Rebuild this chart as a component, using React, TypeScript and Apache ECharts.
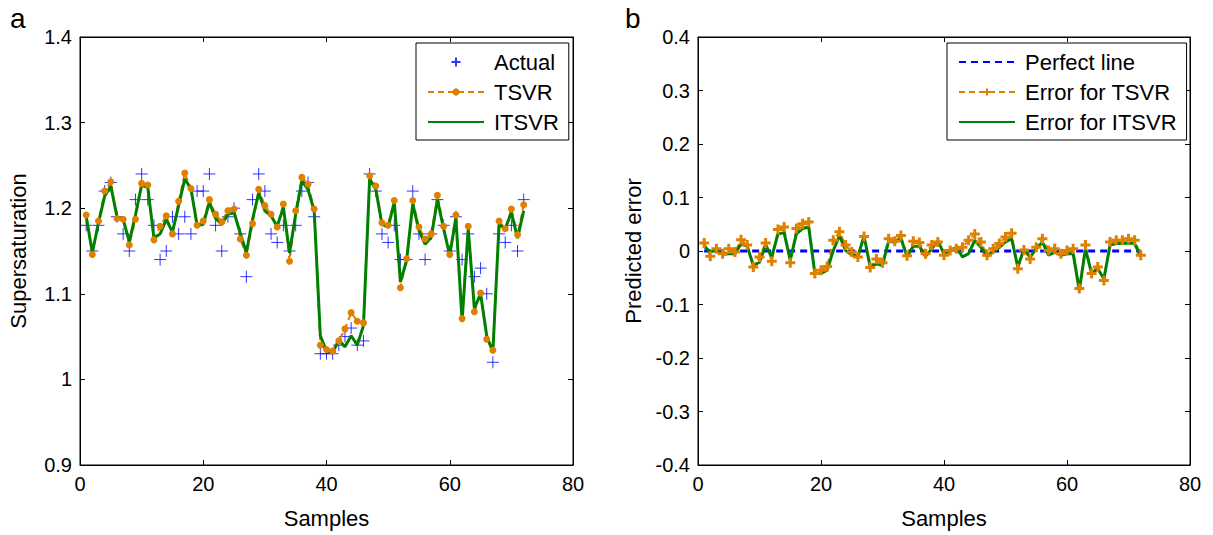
import React, { useEffect, useRef } from "react";
import * as echarts from "echarts";

// ---- Data ----
const actual = [
  1.18, 1.15, 1.18, 1.22, 1.23, 1.19, 1.17, 1.15, 1.21, 1.24,
  1.21, 1.18, 1.14, 1.15, 1.19, 1.17, 1.19, 1.17, 1.22, 1.22,
  1.24, 1.18, 1.15, 1.19, 1.2, 1.17, 1.12, 1.21, 1.24, 1.22,
  1.17, 1.16, 1.18, 1.15, 1.18, 1.22, 1.23, 1.19, 1.03, 1.03,
  1.03, 1.04, 1.05, 1.06, 1.04, 1.045, 1.24, 1.22, 1.17, 1.16,
  1.18, 1.14, 1.14, 1.22, 1.17, 1.14, 1.17, 1.21, 1.18, 1.15,
  1.19, 1.14, 1.17, 1.12, 1.13, 1.1, 1.02, 1.17, 1.16, 1.18,
  1.15, 1.21,
];
const tsvr = [
  1.192, 1.146, 1.185, 1.22, 1.231, 1.188, 1.187, 1.157, 1.187, 1.229,
  1.227, 1.163, 1.179, 1.191, 1.17, 1.208, 1.241, 1.223, 1.18, 1.185,
  1.21, 1.193, 1.184, 1.197, 1.199, 1.164, 1.145, 1.182, 1.222, 1.203,
  1.193, 1.178, 1.205, 1.138, 1.197, 1.236, 1.228, 1.199, 1.04, 1.035,
  1.033, 1.045, 1.059, 1.078, 1.068, 1.066, 1.238, 1.226, 1.183, 1.18,
  1.209, 1.107, 1.141, 1.209, 1.178, 1.164, 1.17, 1.215, 1.179, 1.146,
  1.192, 1.071, 1.179, 1.079, 1.101, 1.047, 1.034, 1.185, 1.176, 1.199,
  1.169, 1.204,
];
const itsvr = [
  1.191, 1.148, 1.183, 1.214, 1.226, 1.19, 1.187, 1.161, 1.192, 1.227,
  1.224, 1.165, 1.17, 1.187, 1.172, 1.203, 1.234, 1.223, 1.18, 1.181,
  1.207, 1.188, 1.181, 1.193, 1.195, 1.171, 1.148, 1.187, 1.218, 1.197,
  1.191, 1.179, 1.201, 1.148, 1.193, 1.232, 1.222, 1.197, 1.051, 1.033,
  1.031, 1.046, 1.038, 1.051, 1.04, 1.063, 1.234, 1.222, 1.181, 1.178,
  1.207, 1.114, 1.139, 1.205, 1.174, 1.158, 1.166, 1.21, 1.176, 1.145,
  1.189, 1.068, 1.176, 1.083, 1.1, 1.051, 1.032, 1.181, 1.176, 1.195,
  1.165, 1.197,
];
const errTsvr = [
  0.015, -0.01, 0.004, -0.005, 0.004, -0.002, 0.021, 0.011, -0.03, -0.011,
  0.015, -0.019, 0.04, 0.045, -0.022, 0.042, 0.051, 0.054, -0.042, -0.036,
  -0.029, 0.02, 0.036, 0.011, -0.002, -0.011, 0.027, -0.031, -0.015, -0.022,
  0.023, 0.018, 0.029, -0.009, 0.018, 0.016, -0.005, 0.011, 0.017, -0.008,
  0.001, 0.004, 0.007, 0.02, 0.032, 0.017, -0.008, 0.004, 0.014, 0.026,
  0.033, -0.033, 0.002, -0.015, 0.007, 0.023, 0.001, 0.004, -0.005, 0.001,
  0.004, -0.07, 0.011, -0.042, -0.03, -0.055, 0.017, 0.02, 0.02, 0.023,
  0.02, -0.008,
];
const errItsvr = [
  0.009, -0.002, 0.002, -0.006, -0.005, -0.005, 0.013, 0.009, -0.027, -0.021,
  0.011, -0.011, 0.032, 0.034, -0.017, 0.032, 0.042, 0.045, -0.042, -0.042,
  -0.036, 0.001, 0.029, 0.001, -0.007, -0.01, 0.028, -0.03, -0.024, -0.027,
  0.019, 0.016, 0.023, -0.01, 0.009, 0.009, -0.01, 0.004, 0.019, -0.005,
  0.001, 0.007, -0.011, -0.005, 0.02, 0.007, -0.01, -0.002, 0.007, 0.017,
  0.023, -0.03, 0.004, -0.011, 0.004, 0.017, -0.008, -0.002, -0.008, -0.005,
  -0.005, -0.074, 0.004, -0.042, -0.033, -0.052, 0.011, 0.014, 0.014, 0.015,
  0.014, -0.011,
];
const perfectX = [1, 72];
const perfectY = [0, 0];

const FONT = "Arial, 'Liberation Sans', Helvetica, sans-serif";
const ORANGE = "#E08000";
const GREEN = "#008000";
const BLUE = "#0000FF";
const PLUS = "path://M0,5L10,5M5,0L5,10";
const TICK_FS = 20;
const TEXT_FS = 22;

const pairs = (ys: number[]) => ys.map((v, i) => [i + 1, v]);

function xAxes(grid: number) {
  const common = {
    gridIndex: grid,
    type: "value" as const,
    min: 0,
    max: 80,
    interval: 20,
    splitLine: { show: false },
    axisLine: { show: true, onZero: false, lineStyle: { color: "#000", width: 1 } },
    axisTick: { show: true, inside: true, length: 5, lineStyle: { color: "#000" } },
  };
  return [
    {
      ...common,
      position: "bottom",
      axisLabel: { color: "#000", fontSize: TICK_FS, fontFamily: FONT, margin: 9 },
      name: "Samples",
      nameLocation: "middle",
      nameGap: 42,
      nameTextStyle: { color: "#000", fontSize: TEXT_FS, fontFamily: FONT },
    },
    { ...common, position: "top", axisLabel: { show: false } },
  ];
}

function yAxes(grid: number, min: number, max: number, name: string, gap: number) {
  const common = {
    gridIndex: grid,
    type: "value" as const,
    min,
    max,
    interval: 0.1,
    splitLine: { show: false },
    axisLine: { show: true, onZero: false, lineStyle: { color: "#000", width: 1 } },
    axisTick: { show: true, inside: true, length: 5, lineStyle: { color: "#000" } },
  };
  return [
    {
      ...common,
      position: "left",
      axisLabel: {
        color: "#000",
        fontSize: TICK_FS,
        fontFamily: FONT,
        margin: 8,
        formatter: (v: number) => String(Math.round(v * 10) / 10),
      },
      name,
      nameLocation: "middle",
      nameGap: gap,
      nameTextStyle: { color: "#000", fontSize: TEXT_FS, fontFamily: FONT },
    },
    { ...common, position: "right", axisLabel: { show: false } },
  ];
}

const legendBase = {
  orient: "vertical" as const,
  itemWidth: 56,
  itemHeight: 9,
  itemGap: 8,
  borderColor: "#000",
  borderWidth: 1,
  borderRadius: 0,
  backgroundColor: "#fff",
  padding: [8, 10, 7, 11],
  textStyle: {
    color: "#000",
    fontSize: TEXT_FS,
    fontFamily: FONT,
    lineHeight: 22,
    padding: [0, 0, 0, 5],
  },
  inactiveColor: "#000",
};
const hideSym = { itemStyle: { opacity: 0 } };

export default function App() {
  const ref = useRef<HTMLDivElement>(null);
  useEffect(() => {
    if (!ref.current) return;
    const chart = echarts.init(ref.current, undefined, { renderer: "svg" });
    chart.setOption({
      animation: false,
      backgroundColor: "#fff",
      grid: [
        { left: 80, top: 37, width: 493, height: 428, show: true, borderColor: "#000", borderWidth: 1, backgroundColor: "#fff" },
        { left: 698, top: 37, width: 492, height: 428, show: true, borderColor: "#000", borderWidth: 1, backgroundColor: "#fff" },
      ],
      xAxis: [...xAxes(0), ...xAxes(1)],
      yAxis: [
        ...yAxes(0, 0.9, 1.4, "Supersaturation", 51),
        ...yAxes(1, -0.4, 0.4, "Predicted error", 54),
      ],
      legend: [
        {
          ...legendBase,
          left: 416,
          top: 43,
          data: ["Actual", "TSVR", { name: "ITSVR", ...hideSym }],
        },
        {
          ...legendBase,
          left: 947,
          top: 43,
          data: [
            { name: "Perfect line", ...hideSym },
            "Error for TSVR",
            { name: "Error for ITSVR", ...hideSym },
          ],
        },
      ],
      graphic: [
        { type: "text", left: 10, top: 4, style: { text: "a", fontSize: 28, fontFamily: FONT, fill: "#000" } },
        { type: "text", left: 625, top: 4, style: { text: "b", fontSize: 28, fontFamily: FONT, fill: "#000" } },
      ],
      series: [
        {
          name: "Actual",
          type: "scatter",
          xAxisIndex: 0,
          yAxisIndex: 0,
          data: pairs(actual),
          symbol: PLUS,
          symbolSize: 12,
          itemStyle: { color: "rgba(0,0,0,0)", borderColor: BLUE, borderWidth: 1 },
        },
        {
          name: "TSVR",
          type: "line",
          xAxisIndex: 0,
          yAxisIndex: 0,
          data: pairs(tsvr),
          symbol: "circle",
          symbolSize: 7,
          showAllSymbol: true,
          lineStyle: { color: ORANGE, width: 2, type: [6, 4] },
          itemStyle: { color: ORANGE },
        },
        {
          name: "ITSVR",
          type: "line",
          xAxisIndex: 0,
          yAxisIndex: 0,
          data: pairs(itsvr),
          symbol: "none",
          lineStyle: { color: GREEN, width: 3 },
          itemStyle: { color: GREEN },
        },
        {
          name: "Perfect line",
          type: "line",
          xAxisIndex: 2,
          yAxisIndex: 2,
          data: perfectX.map((x, i) => [x, perfectY[i]]),
          symbol: "none",
          lineStyle: { color: BLUE, width: 3, type: [7, 5] },
          itemStyle: { color: BLUE },
        },
        {
          name: "Error for TSVR",
          type: "line",
          xAxisIndex: 2,
          yAxisIndex: 2,
          data: pairs(errTsvr),
          symbol: PLUS,
          symbolSize: 10,
          showAllSymbol: true,
          lineStyle: { color: ORANGE, width: 2, type: [6, 4] },
          itemStyle: { color: ORANGE, borderColor: ORANGE, borderWidth: 3 },
        },
        {
          name: "Error for ITSVR",
          type: "line",
          xAxisIndex: 2,
          yAxisIndex: 2,
          data: pairs(errItsvr),
          symbol: "none",
          lineStyle: { color: GREEN, width: 3 },
          itemStyle: { color: GREEN },
        },
      ],
    });
    return () => chart.dispose();
  }, []);
  return (
    <div
      ref={ref}
      style={{ position: "absolute", left: 0, top: 0, width: 1213, height: 535, background: "#fff" }}
    />
  );
}
